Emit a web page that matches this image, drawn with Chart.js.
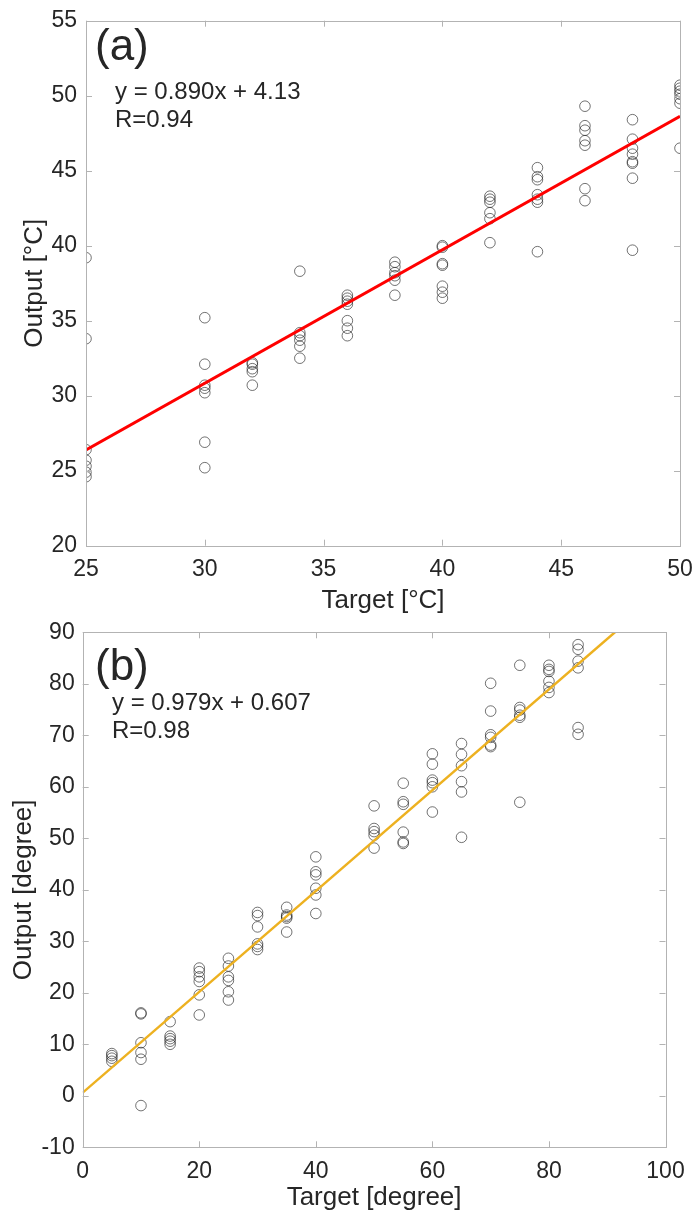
<!DOCTYPE html>
<html>
<head>
<meta charset="utf-8">
<script src="https://cdn.jsdelivr.net/npm/chart.js@4.4.1/dist/chart.umd.min.js"></script>
<style>
  body { margin: 0; background: #fff; }
  #wrap { position: relative; width: 696px; height: 1213px; }
  #tempChart { position: absolute; left: 0; top: 0; }
  #angleChart { position: absolute; left: 0; top: 600px; }
</style>
</head>
<body>
<div id="wrap">
  <canvas id="tempChart" width="696" height="620"></canvas>
  <canvas id="angleChart" width="696" height="613"></canvas>
</div>
<script>
// (a) temperature: target vs output
const tempTarget = [
  25, 25, 25, 25, 25, 25, 25,
  30, 30, 30, 30, 30, 30, 30,
  32, 32, 32, 32, 32,
  34, 34, 34, 34, 34, 34,
  36, 36, 36, 36, 36, 36, 36,
  38, 38, 38, 38, 38, 38,
  40, 40, 40, 40, 40, 40, 40,
  42, 42, 42, 42, 42, 42,
  44, 44, 44, 44, 44, 44, 44,
  46, 46, 46, 46, 46, 46, 46,
  48, 48, 48, 48, 48, 48, 48, 48,
  50, 50, 50, 50, 50, 50, 50
];
const tempOutput = [
  39.2, 33.8, 26.4, 25.7, 25.3, 24.9, 24.6,
  35.2, 32.1, 30.7, 30.5, 30.2, 26.9, 25.2,
  32.2, 32.1, 31.8, 31.6, 30.7,
  38.3, 34.2, 34.0, 33.7, 33.3, 32.5,
  36.7, 36.5, 36.3, 36.1, 35.0, 34.5, 34.0,
  38.9, 38.6, 38.2, 38.0, 37.7, 36.7,
  40.0, 39.9, 38.8, 38.7, 37.3, 36.9, 36.5,
  43.3, 43.1, 42.9, 42.2, 41.8, 40.2,
  45.2, 44.6, 44.4, 43.4, 43.1, 42.9, 39.6,
  49.3, 48.0, 47.7, 47.0, 46.7, 43.8, 43.0,
  48.4, 47.1, 46.5, 46.1, 45.6, 45.5, 44.5, 39.7,
  50.7, 50.5, 50.3, 50.1, 49.8, 49.5, 46.5
];
const tempFitX = [25, 50];
const tempFitY = [26.38, 48.63];
const tempTicksX = [25, 30, 35, 40, 45, 50];
const tempTicksY = [20, 25, 30, 35, 40, 45, 50, 55];

// (b) angle: target vs output
const angleTarget = [
  5, 5, 5, 5,
  10, 10, 10, 10, 10, 10,
  15, 15, 15, 15, 15,
  20, 20, 20, 20, 20, 20,
  25, 25, 25, 25, 25, 25,
  30, 30, 30, 30, 30, 30,
  35, 35, 35, 35, 35,
  40, 40, 40, 40, 40, 40,
  50, 50, 50, 50, 50,
  55, 55, 55, 55, 55, 55,
  60, 60, 60, 60, 60, 60,
  65, 65, 65, 65, 65, 65,
  70, 70, 70, 70, 70, 70,
  75, 75, 75, 75, 75, 75,
  80, 80, 80, 80, 80, 80,
  85, 85, 85, 85, 85, 85
];
const angleOutput = [
  8.2, 7.8, 7.3, 6.7,
  16.1, 15.9, 10.3, 8.4, 7.1, -1.9,
  14.4, 11.6, 11.1, 10.6, 10.0,
  24.8, 24.1, 23.1, 22.2, 19.6, 15.7,
  26.7, 25.2, 23.1, 22.4, 20.2, 18.6,
  35.6, 35.0, 32.8, 29.5, 29.0, 28.4,
  36.6, 35.1, 34.8, 34.5, 31.8,
  46.4, 43.5, 42.9, 40.3, 39.0, 35.4,
  56.3, 51.9, 51.3, 50.6, 48.1,
  60.7, 57.1, 56.6, 51.2, 49.3, 49.0,
  66.4, 64.4, 61.3, 60.8, 60.0, 55.1,
  68.4, 66.3, 64.1, 61.0, 59.0, 50.2,
  80.1, 74.7, 70.1, 69.6, 68.1, 67.8,
  83.6, 75.4, 74.9, 73.9, 73.5, 57.0,
  83.6, 82.8, 82.4, 80.5, 79.3, 78.3,
  87.6, 86.7, 84.4, 83.1, 71.5, 70.2
];
const angleFitX = [0, 100];
const angleFitY = [0.607, 98.5];
const angleTicksX = [0, 20, 40, 60, 80, 100];
const angleTicksY = [-10, 0, 10, 20, 30, 40, 50, 60, 70, 80, 90];

const FONT = "'Liberation Sans', Arial, Helvetica, sans-serif";
const textColor = '#262626';
const axisColor = '#b3b3b3';

function toPoints(xs, ys) {
  return xs.map((x, i) => ({ x: x, y: ys[i] }));
}

// MATLAB style box with inward ticks on every side
const boxTicks = {
  id: 'boxTicks',
  afterDraw(chart) {
    const { ctx, chartArea: a, scales } = chart;
    ctx.save();
    ctx.strokeStyle = axisColor;
    ctx.lineWidth = 1;
    ctx.strokeRect(Math.round(a.left) + 0.5, Math.round(a.top) + 0.5,
      Math.round(a.right - a.left), Math.round(a.bottom - a.top));
    ctx.beginPath();
    scales.x.ticks.forEach(t => {
      const px = Math.round(scales.x.getPixelForValue(t.value)) + 0.5;
      ctx.moveTo(px, a.bottom); ctx.lineTo(px, a.bottom - 6);
      ctx.moveTo(px, a.top); ctx.lineTo(px, a.top + 6);
    });
    scales.y.ticks.forEach(t => {
      const py = Math.round(scales.y.getPixelForValue(t.value)) + 0.5;
      ctx.moveTo(a.left, py); ctx.lineTo(a.left + 6, py);
      ctx.moveTo(a.right, py); ctx.lineTo(a.right - 6, py);
    });
    ctx.stroke();
    ctx.restore();
  }
};

// panel letter and fit equation
const panelText = {
  id: 'panelText',
  afterDraw(chart, args, opts) {
    const ctx = chart.ctx;
    ctx.save();
    ctx.fillStyle = textColor;
    ctx.textBaseline = 'alphabetic';
    ctx.textAlign = 'left';
    ctx.font = '44px ' + FONT;
    ctx.fillText(opts.label, opts.labelX, opts.labelY);
    ctx.font = '24px ' + FONT;
    opts.lines.forEach((s, i) => {
      ctx.fillText(s, opts.textX, opts.textY + i * 28);
    });
    ctx.restore();
  }
};

function makeChart(id, cfg) {
  return new Chart(document.getElementById(id), {
    type: 'scatter',
    data: {
      datasets: [
        {
          type: 'line',
          data: toPoints(cfg.fitX, cfg.fitY),
          borderColor: cfg.lineColor,
          borderWidth: cfg.lineWidth,
          pointRadius: 0,
          fill: false,
          order: 0
        },
        {
          data: toPoints(cfg.xs, cfg.ys),
          pointStyle: 'circle',
          pointRadius: 5.3,
          pointHoverRadius: 5.3,
          borderWidth: 1,
          borderColor: 'rgba(40, 40, 40, 0.65)',
          backgroundColor: 'rgba(0, 0, 0, 0)',
          order: 1
        }
      ]
    },
    options: {
      responsive: false,
      animation: false,
      events: [],
      layout: { padding: cfg.padding },
      plugins: {
        legend: { display: false },
        tooltip: { enabled: false },
        panelText: cfg.text
      },
      scales: {
        x: {
          type: 'linear',
          min: cfg.ticksX[0],
          max: cfg.ticksX[cfg.ticksX.length - 1],
          afterBuildTicks: s => { s.ticks = cfg.ticksX.map(v => ({ value: v })); },
          ticks: { color: textColor, font: { family: FONT, size: 23 }, padding: cfg.xTickPad, maxRotation: 0 },
          grid: { display: false, drawTicks: false },
          border: { display: false },
          title: {
            display: true, text: cfg.xTitle, color: textColor,
            font: { family: FONT, size: 26 }, padding: { top: 0, bottom: cfg.xTitlePad }
          },
          afterFit: s => { s.height = cfg.xHeight; s.paddingLeft = 0; s.paddingRight = 0; }
        },
        y: {
          type: 'linear',
          min: cfg.ticksY[0],
          max: cfg.ticksY[cfg.ticksY.length - 1],
          afterBuildTicks: s => { s.ticks = cfg.ticksY.map(v => ({ value: v })); },
          ticks: { color: textColor, font: { family: FONT, size: 23 }, padding: cfg.yTickPad },
          grid: { display: false, drawTicks: false },
          border: { display: false },
          title: {
            display: true, text: cfg.yTitle, color: textColor,
            font: { family: FONT, size: 26 }, padding: { top: cfg.yTitlePad, bottom: 0 }
          },
          afterFit: s => { s.width = cfg.yWidth; s.paddingTop = 0; s.paddingBottom = 0; }
        }
      }
    },
    plugins: [boxTicks, panelText]
  });
}

makeChart('tempChart', {
  xs: tempTarget, ys: tempOutput,
  fitX: tempFitX, fitY: tempFitY,
  ticksX: tempTicksX, ticksY: tempTicksY,
  lineColor: '#ff0000', lineWidth: 3,
  xTitle: 'Target [°C]', yTitle: 'Output [°C]',
  padding: { top: 20.7, right: 16, bottom: 0, left: 0 },
  xHeight: 74.3, yWidth: 86,
  xTickPad: 10, yTickPad: 9, xTitlePad: 4, yTitlePad: 19,
  text: { label: '(a)', labelX: 95, labelY: 60, lines: ['y = 0.890x + 4.13', 'R=0.94'], textX: 115, textY: 99 }
});

makeChart('angleChart', {
  xs: angleTarget, ys: angleOutput,
  fitX: angleFitX, fitY: angleFitY,
  ticksX: angleTicksX, ticksY: angleTicksY,
  lineColor: '#edb120', lineWidth: 2.5,
  xTitle: 'Target [degree]', yTitle: 'Output [degree]',
  padding: { top: 32.3, right: 30.5, bottom: 0, left: 0 },
  xHeight: 65.7, yWidth: 82.7,
  xTickPad: 11, yTickPad: 8, xTitlePad: 0, yTitlePad: 8,
  text: { label: '(b)', labelX: 95, labelY: 80, lines: ['y = 0.979x + 0.607', 'R=0.98'], textX: 112, textY: 110 }
});
</script>
</body>
</html>
